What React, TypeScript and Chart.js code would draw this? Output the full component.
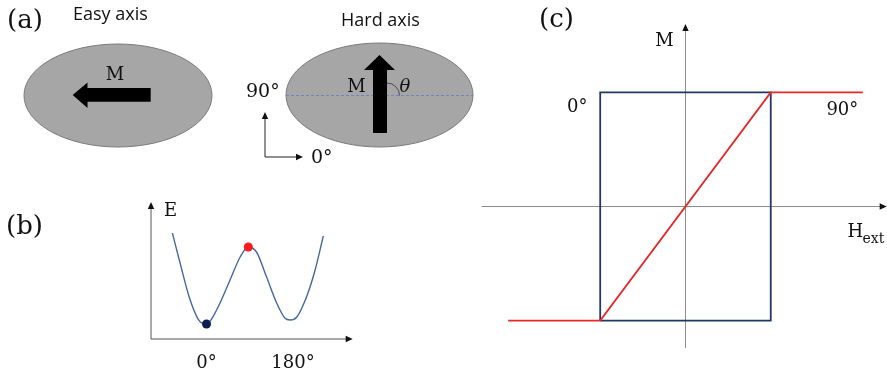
import { useEffect, useRef } from "react";
import { Chart, registerables } from "chart.js";
Chart.register(...registerables);

const W = 887;
const H = 373;
const SERIF = '"DejaVu Serif", serif';
const SANS = '"Open Sans", sans-serif';

// ---------- Panel (b): energy landscape E(theta) ----------
const thetaDeg = [-71, -55, -34, -13, 0, 21, 49, 70, 87, 104, 125, 146, 163, 174, 188, 208, 226, 243];
const energyVals = [106, 76, 39, 17, 15, 29, 59, 82, 92, 87, 62, 36, 21, 19, 22, 42, 69, 103];
const markerTheta = [0, 87];
const markerEnergy = [15, 92];
const markerColors = ["#0d1f4f", "#ff1a1a"];
const bTickValues = [0, 180];
const bTickLabels = ["0°", "180°"];

// ---------- Panel (c): M(H_ext) loops ----------
const easyLoopH = [-1, -1, 1, 1, -1];
const easyLoopM = [-1, 1, 1, -1, -1];
const hardLoopH = [-2.08, -1, 1, 2.08];
const hardLoopM = [-1, -1, 1, 1];

type Pad = { left: number; right: number; top: number; bottom: number };

function baseOptions(pad: Pad, xmin: number, xmax: number, ymin: number, ymax: number, reverseY = false) {
  return {
    responsive: false,
    animation: false as const,
    events: [] as any[],
    layout: { padding: pad },
    plugins: { legend: { display: false }, tooltip: { enabled: false } },
    scales: {
      x: { type: "linear" as const, display: false, min: xmin, max: xmax },
      y: { type: "linear" as const, display: false, min: ymin, max: ymax, reverse: reverseY },
    },
  };
}

function txt(ctx: CanvasRenderingContext2D, s: string, x: number, y: number, font: string, align: CanvasTextAlign = "left", color = "#111") {
  ctx.save();
  ctx.font = font;
  ctx.fillStyle = color;
  ctx.textAlign = align;
  ctx.textBaseline = "alphabetic";
  ctx.fillText(s, x, y);
  ctx.restore();
}

function arrowHead(ctx: CanvasRenderingContext2D, x: number, y: number, dir: "up" | "right", len = 7, hw = 3.5, color = "#111") {
  ctx.save();
  ctx.fillStyle = color;
  ctx.beginPath();
  if (dir === "up") {
    ctx.moveTo(x, y);
    ctx.lineTo(x - hw, y + len);
    ctx.lineTo(x + hw, y + len);
  } else {
    ctx.moveTo(x, y);
    ctx.lineTo(x - len, y - hw);
    ctx.lineTo(x - len, y + hw);
  }
  ctx.closePath();
  ctx.fill();
  ctx.restore();
}

// Panel (a) illustration (diagram, drawn in figure coordinates through the chart's scales)
const panelAPlugin = {
  id: "panelA",
  afterDraw(chart: any) {
    const ctx: CanvasRenderingContext2D = chart.ctx;
    const sx = chart.scales.x, sy = chart.scales.y;
    const X = (v: number) => sx.getPixelForValue(v);
    const Y = (v: number) => sy.getPixelForValue(v);

    txt(ctx, "(a)", X(7), Y(28), `26px ${SERIF}`);
    txt(ctx, "(b)", X(6), Y(234), `26px ${SERIF}`);
    txt(ctx, "(c)", X(539), Y(27), `26px ${SERIF}`);
    txt(ctx, "Easy axis", X(73), Y(20), `18px ${SANS}`);
    txt(ctx, "Hard axis", X(341), Y(26), `18px ${SANS}`);

    const ellipse = (cx: number, cy: number, rx: number, ry: number) => {
      ctx.save();
      ctx.beginPath();
      ctx.ellipse(X(cx), Y(cy), rx, ry, 0, 0, Math.PI * 2);
      ctx.fillStyle = "#a6a6a6";
      ctx.fill();
      ctx.strokeStyle = "#7a7a7a";
      ctx.lineWidth = 1;
      ctx.stroke();
      ctx.restore();
    };
    ellipse(118, 95.5, 94, 51.5);
    ellipse(379.5, 95, 93.5, 52);

    // dashed axis in hard ellipse
    ctx.save();
    ctx.strokeStyle = "#5f7fc0";
    ctx.lineWidth = 0.8;
    ctx.setLineDash([3, 2]);
    ctx.beginPath();
    ctx.moveTo(X(286), Y(95.5));
    ctx.lineTo(X(473), Y(95.5));
    ctx.stroke();
    ctx.restore();

    // easy-axis arrow (pointing left)
    ctx.save();
    ctx.fillStyle = "#000";
    ctx.beginPath();
    ctx.moveTo(X(72.7), Y(95));
    ctx.lineTo(X(87.5), Y(82.5));
    ctx.lineTo(X(87.5), Y(88));
    ctx.lineTo(X(150.7), Y(88));
    ctx.lineTo(X(150.7), Y(101.7));
    ctx.lineTo(X(87.5), Y(101.7));
    ctx.lineTo(X(87.5), Y(108));
    ctx.closePath();
    ctx.fill();
    // hard-axis arrow (pointing up)
    ctx.beginPath();
    ctx.moveTo(X(379.5), Y(55));
    ctx.lineTo(X(395), Y(70));
    ctx.lineTo(X(387), Y(70));
    ctx.lineTo(X(387), Y(133));
    ctx.lineTo(X(373), Y(133));
    ctx.lineTo(X(373), Y(70));
    ctx.lineTo(X(364), Y(70));
    ctx.closePath();
    ctx.fill();
    ctx.restore();

    // theta arc
    ctx.save();
    ctx.strokeStyle = "#333";
    ctx.lineWidth = 0.8;
    ctx.beginPath();
    ctx.arc(X(387), Y(95.5), 12.5, -Math.PI / 2, 0);
    ctx.stroke();
    ctx.restore();

    txt(ctx, "M", X(115), Y(80), `18px ${SERIF}`, "center");
    txt(ctx, "M", X(356.5), Y(92), `18px ${SERIF}`, "center");
    txt(ctx, "θ", X(405), Y(92), `italic 18px ${SERIF}`, "center");
    txt(ctx, "90°", X(246), Y(97), `19px ${SERIF}`);
    txt(ctx, "0°", X(311), Y(163), `19px ${SERIF}`);

    // small reference axes
    ctx.save();
    ctx.strokeStyle = "#222";
    ctx.lineWidth = 1;
    ctx.beginPath();
    ctx.moveTo(X(265), Y(118));
    ctx.lineTo(X(265), Y(157));
    ctx.lineTo(X(296), Y(157));
    ctx.stroke();
    ctx.restore();
    arrowHead(ctx, X(265), Y(112), "up", 7, 3.2);
    arrowHead(ctx, X(303), Y(157), "right", 7, 3.2);
  },
};

const panelBPlugin = {
  id: "panelB",
  beforeDatasetsDraw(chart: any) {
    const ctx: CanvasRenderingContext2D = chart.ctx;
    const a = chart.chartArea;
    ctx.save();
    ctx.strokeStyle = "#555";
    ctx.lineWidth = 1;
    ctx.beginPath();
    ctx.moveTo(a.left, a.top + 6);
    ctx.lineTo(a.left, a.bottom);
    ctx.lineTo(a.right - 6, a.bottom);
    ctx.stroke();
    ctx.restore();
    arrowHead(ctx, a.left, a.top, "up", 7, 3.2);
    arrowHead(ctx, a.right, a.bottom, "right", 7, 3.2);
  },
  afterDraw(chart: any) {
    const ctx: CanvasRenderingContext2D = chart.ctx;
    const a = chart.chartArea;
    const sx = chart.scales.x;
    txt(ctx, "E", a.left + 13, a.top + 14, `18px ${SERIF}`);
    bTickValues.forEach((v, i) => {
      txt(ctx, bTickLabels[i], sx.getPixelForValue(v), a.bottom + 29, `18px ${SERIF}`, "center");
    });
  },
};

const panelCPlugin = {
  id: "panelC",
  beforeDatasetsDraw(chart: any) {
    const ctx: CanvasRenderingContext2D = chart.ctx;
    const a = chart.chartArea;
    const x0 = chart.scales.x.getPixelForValue(0);
    const y0 = chart.scales.y.getPixelForValue(0);
    ctx.save();
    ctx.strokeStyle = "#8a8a8a";
    ctx.lineWidth = 1;
    ctx.beginPath();
    ctx.moveTo(x0, a.top + 6);
    ctx.lineTo(x0, a.bottom);
    ctx.moveTo(a.left, y0);
    ctx.lineTo(a.right - 6, y0);
    ctx.stroke();
    ctx.restore();
    arrowHead(ctx, x0, a.top, "up", 7, 3.2);
    arrowHead(ctx, a.right, y0, "right", 7, 3.2);
  },
  afterDraw(chart: any) {
    const ctx: CanvasRenderingContext2D = chart.ctx;
    const sx = chart.scales.x, sy = chart.scales.y;
    const X = (v: number) => sx.getPixelForValue(v);
    const Y = (v: number) => sy.getPixelForValue(v);
    txt(ctx, "M", X(0) - 21, Y(1.41), `18px ${SERIF}`, "center");
    txt(ctx, "0°", X(-1.27), Y(0.83), `18px ${SERIF}`, "center");
    txt(ctx, "90°", X(1.84), Y(0.8), `18px ${SERIF}`, "center");
    txt(ctx, "H", X(1.9), Y(-0.27), `18px ${SERIF}`);
    txt(ctx, "ext", X(1.9) + 15, Y(-0.32), `14px ${SERIF}`);
  },
};

function useChart(ref: React.RefObject<HTMLCanvasElement | null>, make: (c: HTMLCanvasElement) => Chart) {
  useEffect(() => {
    if (!ref.current) return;
    const ch = make(ref.current);
    return () => ch.destroy();
  }, []);
}

export default function App() {
  const refA = useRef<HTMLCanvasElement>(null);
  const refB = useRef<HTMLCanvasElement>(null);
  const refC = useRef<HTMLCanvasElement>(null);

  useChart(refA, (c) =>
    new Chart(c, {
      type: "scatter",
      data: { datasets: [] },
      options: baseOptions({ left: 0, right: 0, top: 0, bottom: 0 }, 0, W, 0, H, true) as any,
      plugins: [panelAPlugin],
    })
  );

  useChart(refB, (c) =>
    new Chart(c, {
      type: "scatter",
      data: {
        datasets: [
          {
            data: markerTheta.map((t, i) => ({ x: t, y: markerEnergy[i] })),
            pointRadius: 4.5,
            pointBackgroundColor: markerColors,
            pointBorderWidth: 0,
            showLine: false,
          } as any,
          {
            data: thetaDeg.map((t, i) => ({ x: t, y: energyVals[i] })),
            showLine: true,
            borderColor: "#44699f",
            borderWidth: 1.4,
            pointRadius: 0,
            cubicInterpolationMode: "monotone",
          } as any,
        ],
      },
      options: baseOptions({ left: 151, right: W - 352.7, top: 202, bottom: H - 339 }, -115.5, 304.2, 0, 137) as any,
      plugins: [panelBPlugin],
    })
  );

  useChart(refC, (c) =>
    new Chart(c, {
      type: "scatter",
      data: {
        datasets: [
          {
            data: hardLoopH.map((h, i) => ({ x: h, y: hardLoopM[i] })),
            showLine: true,
            borderColor: "#e8262a",
            borderWidth: 1.8,
            pointRadius: 0,
            order: 0,
          } as any,
          {
            data: easyLoopH.map((h, i) => ({ x: h, y: easyLoopM[i] })),
            showLine: true,
            borderColor: "#203864",
            borderWidth: 1.8,
            pointRadius: 0,
            order: 1,
          } as any,
        ],
      },
      options: baseOptions({ left: 481.7, right: 0.3, top: 24, bottom: 25 }, -2.39, 2.36, -1.24, 1.6) as any,
      plugins: [panelCPlugin],
    })
  );

  const cs: React.CSSProperties = { position: "absolute", left: 0, top: 0, width: W, height: H };
  return (
    <div style={{ position: "fixed", left: 0, top: 0, width: W, height: H, background: "#fff", overflow: "hidden" }}>
      <canvas ref={refA} width={W} height={H} style={cs} />
      <canvas ref={refB} width={W} height={H} style={cs} />
      <canvas ref={refC} width={W} height={H} style={cs} />
    </div>
  );
}
